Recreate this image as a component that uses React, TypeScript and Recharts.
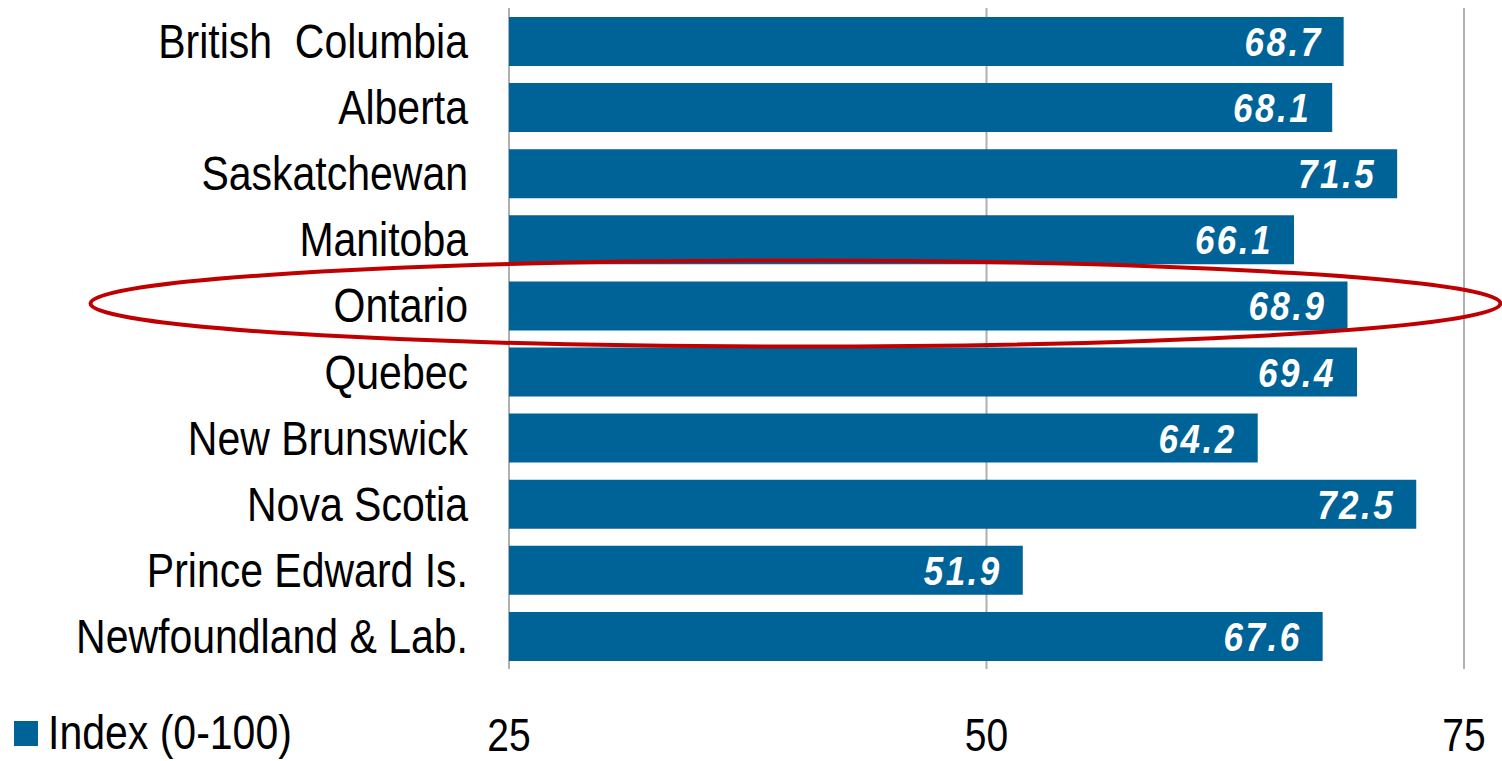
import { BarChart, Bar, XAxis, YAxis, CartesianGrid, Legend, LabelList, ReferenceDot } from 'recharts';

const provinces = [
  'British  Columbia',
  'Alberta',
  'Saskatchewan',
  'Manitoba',
  'Ontario',
  'Quebec',
  'New Brunswick',
  'Nova Scotia',
  'Prince Edward Is.',
  'Newfoundland & Lab.',
];
const indexValues = [68.7, 68.1, 71.5, 66.1, 68.9, 69.4, 64.2, 72.5, 51.9, 67.6];
const xTicks = [25, 50, 75];
const seriesName = 'Index (0-100)';
const highlighted = 'Ontario';

const data = provinces.map((name, i) => ({ name, value: indexValues[i] }));

const BLUE = '#006398';
const FONT = '"Liberation Sans", Arial, sans-serif';
// the source text is a little taller than it is wide
const STRETCH = 1.17;

function ValueLabel(props: any) {
  const { x, y, width, height, value } = props;
  const cx = x + width - 21;
  const cy = y + height / 2;
  return (
    <g transform={`translate(${cx},${cy})`}>
      <text
        transform={`scale(1,${STRETCH})`}
        textAnchor="end"
        dy="0.355em"
        fill="#fff"
        fontSize={35}
        fontWeight="bold"
        fontStyle="italic"
        letterSpacing={2.5}
        fontFamily={FONT}
      >
        {Number(value).toFixed(1)}
      </text>
    </g>
  );
}

function CategoryTick(props: any) {
  const { x, y, payload } = props;
  return (
    <g transform={`translate(${x},${y})`}>
      <text
        transform={`scale(1,${STRETCH})`}
        textAnchor="end"
        dy="0.355em"
        fill="#000"
        fontSize={41}
        fontFamily={FONT}
        style={{ whiteSpace: 'pre' }}
      >
        {payload.value}
      </text>
    </g>
  );
}

function ValueTick(props: any) {
  const { x, y, payload } = props;
  return (
    <g transform={`translate(${x},${y})`}>
      <text transform={`scale(1,${STRETCH})`} textAnchor="middle" dy="0.71em" fill="#000" fontSize={39} fontFamily={FONT}>
        {payload.value}
      </text>
    </g>
  );
}

function LegendBox() {
  return (
    <div style={{ display: 'flex', alignItems: 'center', height: 42, fontFamily: FONT, fontSize: 41, color: '#000' }}>
      <span style={{ display: 'inline-block', width: 24, height: 25, background: BLUE, marginLeft: 14, marginRight: 10 }} />
      <span style={{ display: 'inline-block', transform: `scaleY(${STRETCH})` }}>{seriesName}</span>
    </div>
  );
}

export default function App() {
  return (
    <div style={{ position: 'absolute', left: 0, top: 0, background: '#fff' }}>
      <BarChart
        width={1502}
        height={761}
        data={data}
        layout="vertical"
        margin={{ top: 8, right: 38, left: 0, bottom: 0 }}
      >
        <CartesianGrid horizontal={false} stroke="#b0b0b0" strokeWidth={2} />
        <XAxis
          type="number"
          domain={[25, 75]}
          ticks={xTicks}
          axisLine={false}
          tickLine={false}
          height={50}
          tickMargin={44}
          tick={<ValueTick />}
        />
        <YAxis
          type="category"
          dataKey="name"
          width={509}
          axisLine={false}
          tickLine={false}
          tickSize={0}
          tickMargin={41}
          interval={0}
          tick={<CategoryTick />}
        />
        <Legend
          verticalAlign="bottom"
          align="left"
          wrapperStyle={{ left: 0, top: 712 }}
          content={() => <LegendBox />}
        />
        <Bar dataKey="value" name={seriesName} fill={BLUE} barSize={49} isAnimationActive={false}>
          <LabelList dataKey="value" content={ValueLabel} />
        </Bar>
        <ReferenceDot
          x={40}
          y={provinces.find((p) => p === highlighted)}
          ifOverflow="visible"
          shape={(p: any) => (
            <ellipse cx={p.cx} cy={p.cy - 2} rx={705} ry={43} fill="none" stroke="#c00000" strokeWidth={4} />
          )}
        />
      </BarChart>
    </div>
  );
}
